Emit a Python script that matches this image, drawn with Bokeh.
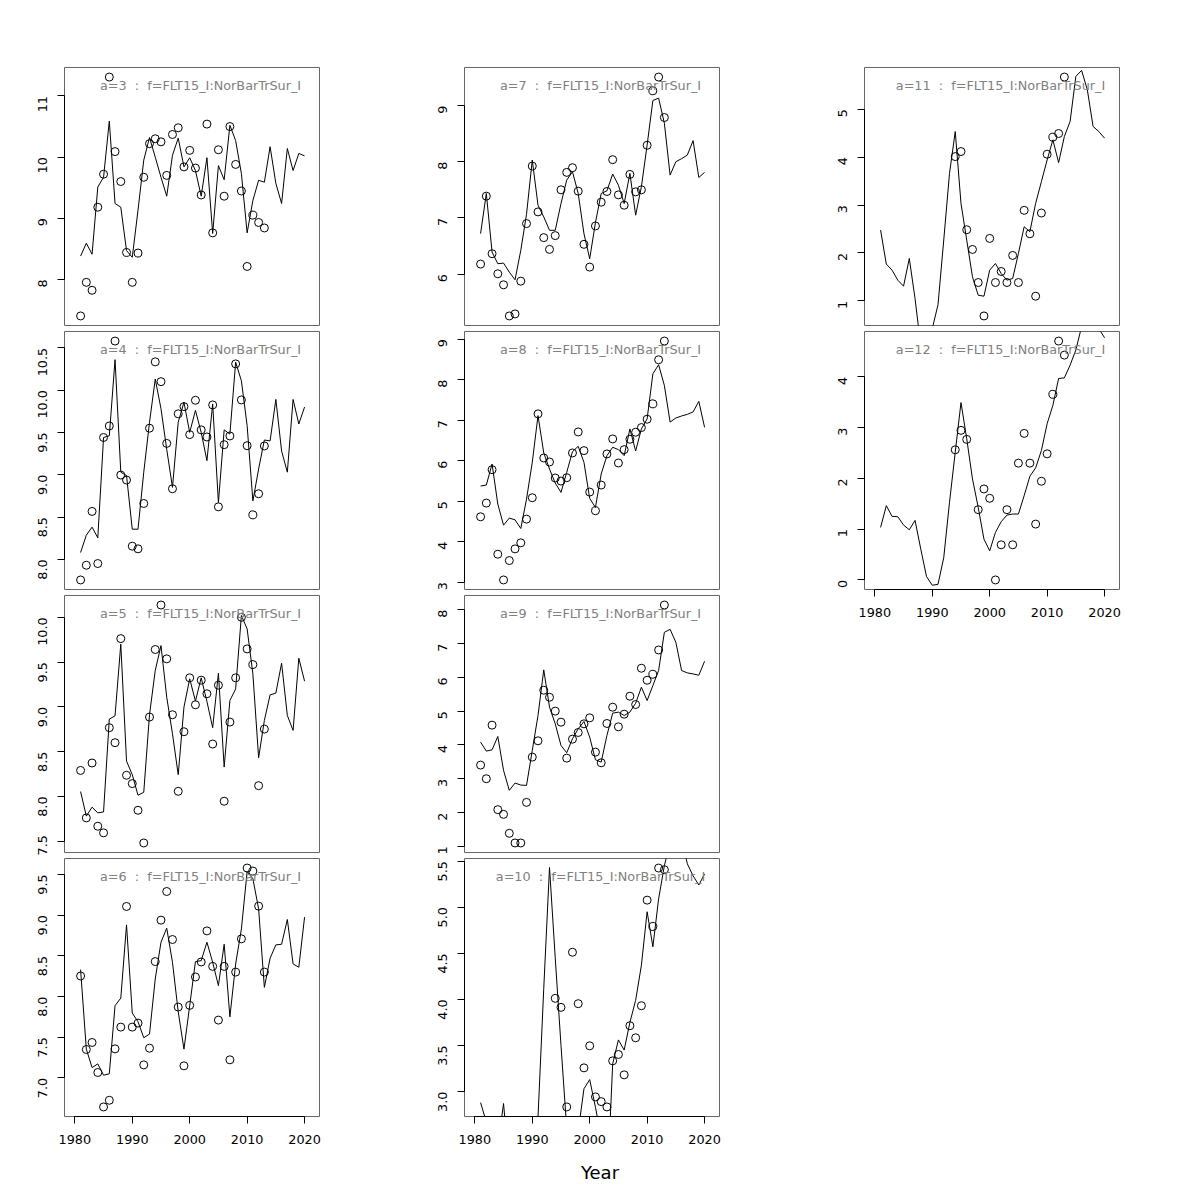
import math
from bokeh.plotting import figure
from bokeh.layouts import row, column
from bokeh.models import Range1d, FixedTicker, PrintfTickFormatter, Label
from bokeh.embed import file_html
from bokeh.resources import INLINE

FONT = "DejaVu Sans"

# ---------------- data ----------------
years_fit = [1981, 1982, 1983, 1984, 1985, 1986, 1987, 1988, 1989, 1990,
             1991, 1992, 1993, 1994, 1995, 1996, 1997, 1998, 1999, 2000,
             2001, 2002, 2003, 2004, 2005, 2006, 2007, 2008, 2009, 2010,
             2011, 2012, 2013, 2014, 2015, 2016, 2017, 2018, 2019, 2020]
years_obs_long = [1981, 1982, 1983, 1984, 1985, 1986, 1987, 1988, 1989, 1990,
                  1991, 1992, 1993, 1994, 1995, 1996, 1997, 1998, 1999, 2000,
                  2001, 2002, 2003, 2004, 2005, 2006, 2007, 2008, 2009, 2010,
                  2011, 2012, 2013]
years_obs_short = [1994, 1995, 1996, 1997, 1998, 1999, 2000, 2001, 2002, 2003,
                   2004, 2005, 2006, 2007, 2008, 2009, 2010, 2011, 2012, 2013]
years_obs_a12 = [1994, 1995, 1996, 1998, 1999, 2000, 2001, 2002, 2003, 2004,
                 2005, 2006, 2007, 2008, 2009, 2010, 2011, 2012, 2013]

x_ticks = [1980, 1990, 2000, 2010, 2020]

a3_obs = [7.40, 7.95, 7.82, 9.18, 9.72, 11.31, 10.09, 9.60, 8.44, 7.95, 8.43, 9.67, 10.22, 10.30, 10.25, 9.70, 10.37,
          10.48, 9.84, 10.11, 9.82, 9.38, 10.54, 8.76, 10.12, 9.36, 10.50, 9.88, 9.445, 8.21, 9.05, 8.93, 8.84]
a3_fit = [8.38, 8.59, 8.41, 9.51, 9.67, 10.59, 9.24, 9.18, 8.47, 8.36, 9.13, 9.95, 10.32, 10.00, 9.67, 9.36, 10.03,
          10.31, 9.84, 9.99, 9.78, 9.36, 9.99, 8.75, 9.86, 9.63, 10.52, 10.27, 9.73, 8.76, 9.29, 9.62, 9.59, 10.17,
          9.57, 9.24, 10.14, 9.78, 10.06, 10.02]
a3_ticks = [8, 9, 10, 11]

a4_obs = [7.756, 7.93, 8.566, 7.95, 9.44, 9.576, 10.58, 8.996, 8.937, 8.155, 8.124, 8.66, 9.55, 10.334, 10.10, 9.37,
          8.834, 9.72, 9.805, 9.474, 9.88, 9.53, 9.446, 9.825, 8.62, 9.355, 9.458, 10.31, 9.884, 9.343, 8.526, 8.775,
          9.34]
a4_fit = [8.08, 8.285, 8.38, 8.254, 9.44, 9.46, 10.36, 9.03, 8.99, 8.356, 8.356, 9.03, 9.62, 10.13, 9.78, 9.30, 8.85,
          9.62, 9.856, 9.50, 9.76, 9.50, 9.166, 9.837, 8.67, 9.53, 9.48, 10.33, 10.11, 9.58, 8.69, 9.067, 9.41, 9.40,
          9.89, 9.28, 9.03, 9.89, 9.60, 9.80]
a4_ticks = [8.0, 8.5, 9.0, 9.5, 10.0, 10.5]

a5_obs = [8.29, 7.76, 8.373, 7.667, 7.593, 8.767, 8.60, 9.762, 8.236, 8.143, 7.845, 7.48, 8.886, 9.64, 10.137, 9.536,
          8.912, 8.057, 8.722, 9.324, 9.023, 9.298, 9.146, 8.585, 9.242, 7.946, 8.83, 9.324, 10.0, 9.647, 9.472, 8.12,
          8.752]
a5_fit = [8.054, 7.78, 7.88, 7.816, 7.827, 8.863, 8.90, 9.70, 8.395, 8.243, 8.013, 8.046, 8.912, 9.406, 9.684, 9.108,
          8.70, 8.243, 8.997, 9.313, 9.064, 9.324, 9.06, 8.767, 9.376, 8.328, 9.071, 9.20, 10.02, 9.87, 9.368, 8.432,
          8.848, 9.134, 9.153, 9.487, 8.904, 8.737, 9.543, 9.287]
a5_ticks = [7.5, 8.0, 8.5, 9.0, 9.5, 10.0]

a6_obs = [8.252, 7.349, 7.435, 7.066, 6.643, 6.725, 7.357, 7.624, 9.106, 7.624, 7.673, 7.16, 7.365, 8.429, 8.938, 9.29,
          8.70, 7.87, 7.148, 7.891, 8.24, 8.424, 8.806, 8.37, 7.71, 8.37, 7.222, 8.30, 8.708, 9.578, 9.541, 9.11, 8.30]
a6_fit = [8.33, 7.353, 7.127, 7.172, 7.033, 7.05, 7.887, 7.98, 8.88, 7.796, 7.69, 7.493, 7.538, 8.215, 8.667, 8.839,
          8.42, 7.813, 7.353, 7.887, 8.429, 8.44, 8.667, 8.42, 8.133, 8.642, 7.75, 8.40, 8.83, 9.537, 9.447, 9.077,
          8.112, 8.47, 8.634, 8.642, 8.946, 8.40, 8.359, 8.975]
a6_ticks = [7.0, 7.5, 8.0, 8.5, 9.0, 9.5]

a7_obs = [6.179, 7.387, 6.363, 6.006, 5.81, 5.256, 5.292, 5.875, 6.899, 7.923, 7.107, 6.649, 6.44, 6.685, 7.5, 7.81,
          7.893, 7.476, 6.53, 6.125, 6.857, 7.28, 7.47, 8.036, 7.41, 7.226, 7.774, 7.464, 7.50, 8.292, 9.262, 9.506,
          8.786]
a7_fit = [6.72, 7.435, 6.393, 6.185, 6.196, 6.036, 5.899, 6.423, 7.065, 8.03, 7.226, 7.018, 6.78, 6.78, 7.256, 7.673,
          7.821, 7.435, 6.72, 6.274, 6.917, 7.435, 7.482, 7.78, 7.583, 7.256, 7.792, 7.048, 7.554, 8.298, 9.089, 9.131,
          8.685, 7.762, 8.0, 8.054, 8.119, 8.375, 7.72, 7.81]
a7_ticks = [6, 7, 8, 9]

a8_obs = [4.611, 4.949, 5.774, 3.686, 3.051, 3.53, 3.818, 3.967, 4.553, 5.081, 7.152, 6.063, 5.964, 5.568, 5.493,
          5.576, 6.187, 6.706, 6.244, 5.221, 4.759, 5.394, 6.162, 6.533, 5.939, 6.269, 6.525, 6.698, 6.814, 7.02, 7.4,
          8.488, 8.95]
a8_fit = [5.37, 5.394, 5.914, 4.924, 4.404, 4.578, 4.536, 4.322, 5.048, 5.955, 7.11, 6.187, 5.79, 5.444, 5.213, 5.708,
          6.22, 6.351, 5.955, 5.064, 4.842, 5.667, 6.12, 6.327, 6.269, 6.12, 6.78, 6.236, 6.78, 7.028, 8.142, 8.365,
          7.853, 6.95, 7.05, 7.10, 7.14, 7.20, 7.46, 6.82]
a8_ticks = [3, 4, 5, 6, 7, 8, 9]

a9_obs = [3.404, 3.0, 4.585, 2.085, 1.947, 1.386, 1.10, 1.10, 2.301, 3.64, 4.122, 5.618, 5.41, 5.0, 4.673, 3.61, 4.171,
          4.368, 4.624, 4.801, 3.787, 3.472, 4.634, 5.116, 4.535, 4.909, 5.441, 5.195, 6.268, 5.913, 6.09, 6.809, 8.138]
a9_fit = [4.083, 3.817, 3.856, 4.25, 3.246, 2.656, 2.872, 2.813, 2.803, 3.837, 4.87, 6.22, 5.116, 4.624, 3.984, 3.768,
          4.181, 4.476, 4.693, 4.23, 3.561, 3.492, 4.28, 4.94, 4.97, 4.87, 4.97, 5.234, 5.707, 5.313, 5.756, 6.2, 7.331,
          7.419, 7.035, 6.2, 6.13, 6.10, 6.061, 6.474]
a9_ticks = [1, 2, 3, 4, 5, 6, 7, 8]

a10_obs = [4.011, 3.913, 2.833, 4.511, 3.953, 3.257, 3.496, 2.942, 2.891, 2.833, 3.333, 3.402, 3.181, 3.714, 3.583,
           3.931, 5.076, 4.79, 5.424, 5.406]
a10_fit = [2.88, 2.67, 2.50, 2.40, 2.87, 2.16, 2.10, 2.20, 2.30, 2.20, 2.72, 4.12, 5.43, 4.45, 3.50, 2.60, 2.30, 2.57,
           3.03, 3.13, 2.83, 2.50, 1.90, 3.30, 3.56, 3.45, 3.75, 3.99, 4.37, 4.95, 4.57, 5.09, 5.45, 5.70, 5.80, 5.75,
           5.47, 5.34, 5.24, 5.36]
a10_ticks = [3.0, 3.5, 4.0, 4.5, 5.0, 5.5]

a11_obs = [4.01, 4.115, 2.484, 2.073, 1.383, 0.686, 2.303, 1.383, 1.613, 1.383, 1.948, 1.383, 2.889, 2.40, 1.098,
           2.833, 4.059, 4.415, 4.491, 5.669]
a11_fit = [2.477, 1.767, 1.641, 1.432, 1.307, 1.885, 1.049, 0.05, -0.2, 0.42, 0.92, 2.27, 3.66, 4.533, 3.035, 2.268,
           1.502, 1.118, 1.098, 1.641, 1.78, 1.571, 1.432, 1.467, 1.99, 2.547, 2.443, 3.035, 3.488, 3.94, 4.359, 3.885,
           4.429, 4.742, 5.683, 5.808, 5.404, 4.638, 4.533, 4.394]
a11_ticks = [1, 2, 3, 4, 5]

a12_obs = [2.563, 2.946, 2.768, 1.384, 1.792, 1.608, 0.0, 0.692, 1.384, 0.692, 2.30, 2.886, 2.30, 1.10, 1.944, 2.484,
           3.657, 4.705, 4.428]
a12_fit = [1.035, 1.463, 1.252, 1.245, 1.081, 0.988, 1.173, 0.606, 0.066, -0.105, -0.086, 0.441, 1.529, 2.517, 3.493,
           2.781, 1.99, 1.43, 0.804, 0.573, 0.936, 1.147, 1.278, 1.298, 1.298, 1.661, 2.043, 2.207, 2.55, 3.077, 3.44,
           3.967, 3.98, 4.231, 4.527, 4.99, 5.25, 5.15, 4.95, 4.77]
a12_ticks = [0, 1, 2, 3, 4]

FLEET = "FLT15_I:NorBarTrSur_I"
X_TITLE = "Year"
NB = "\u00a0\u00a0"
LEFT = 64
FRAME_W = 255
X_START, X_END = 1978.2, 2022.6
FS = "12.8px"


def panel(age, oy, obs, fit, yticks, yfmt, height, top, bottom, width=400, xaxis=False):
    lo, hi = min(obs), max(obs)
    pad = 0.04 * (hi - lo)
    p = figure(width=width, height=height, title=None, output_backend="svg", toolbar_location=None, tools="",
               x_range=Range1d(X_START, X_END), y_range=Range1d(lo - pad, hi + pad),
               min_border_left=LEFT, min_border_right=width - LEFT - FRAME_W,
               min_border_top=top, min_border_bottom=bottom,
               x_axis_location="below" if xaxis else None)
    frame_h = height - top - bottom
    p.xgrid.visible = False
    p.ygrid.visible = False
    p.outline_line_color = "#666666"
    p.outline_line_width = 1
    p.background_fill_color = "white"
    p.border_fill_color = "white"

    axes = list(p.yaxis) + (list(p.xaxis) if xaxis else [])
    for ax in axes:
        ax.major_tick_out = 7
        ax.major_tick_in = 0
        ax.minor_tick_line_color = None
        ax.major_tick_line_color = "black"
        ax.axis_line_color = "black"
        ax.major_label_text_font = FONT
        ax.major_label_text_font_size = FS
        ax.major_label_text_color = "black"

    p.yaxis.ticker = FixedTicker(ticks=yticks)
    p.yaxis.formatter = PrintfTickFormatter(format=yfmt)
    p.yaxis.bounds = (yticks[0], yticks[-1])
    p.yaxis.major_label_orientation = math.pi / 2
    p.yaxis.major_label_standoff = 15
    if xaxis:
        p.xaxis.ticker = FixedTicker(ticks=x_ticks)
        p.xaxis.bounds = (x_ticks[0], x_ticks[-1])
        p.xaxis.major_label_standoff = 11

    p.line(years_fit, fit, line_color="black", line_width=1)
    p.scatter(oy, obs, marker="circle", size=8, fill_color=None, line_color="black", line_width=1)

    p.add_layout(Label(x=136, y=frame_h - 18, x_units="screen", y_units="screen",
                       text="a=%d%s:%sf=%s" % (age, NB, NB, FLEET), text_align="center", text_baseline="middle",
                       text_font=FONT, text_font_size=FS, text_color="#808080"))
    return p


def year_strip(width, height):
    s = figure(width=width, height=height, title=None, output_backend="svg", toolbar_location=None, tools="",
               x_range=Range1d(0, 1), y_range=Range1d(0, 1),
               min_border_left=LEFT, min_border_right=width - LEFT - FRAME_W, min_border_top=0, min_border_bottom=0,
               x_axis_location=None, y_axis_location=None)
    s.xgrid.visible = False
    s.ygrid.visible = False
    s.outline_line_color = None
    s.background_fill_color = "white"
    s.border_fill_color = "white"
    s.add_layout(Label(x=135.5, y=20, x_units="screen", y_units="screen", text=X_TITLE,
                       text_align="center", text_baseline="middle",
                       text_font=FONT, text_font_size="18px", text_color="black"))
    return s


p3 = panel(3, years_obs_long, a3_obs, a3_fit, a3_ticks, "%d", 328, 67, 3)
p4 = panel(4, years_obs_long, a4_obs, a4_fit, a4_ticks, "%.1f", 264, 3, 3)
p5 = panel(5, years_obs_long, a5_obs, a5_fit, a5_ticks, "%.1f", 263, 3, 3)
p6 = panel(6, years_obs_long, a6_obs, a6_fit, a6_ticks, "%.1f", 330, 3, 69, xaxis=True)

p7 = panel(7, years_obs_long, a7_obs, a7_fit, a7_ticks, "%d", 328, 67, 3)
p8 = panel(8, years_obs_long, a8_obs, a8_fit, a8_ticks, "%d", 264, 3, 3)
p9 = panel(9, years_obs_long, a9_obs, a9_fit, a9_ticks, "%d", 263, 3, 3)
p10 = panel(10, years_obs_short, a10_obs, a10_fit, a10_ticks, "%.1f", 299, 3, 38, xaxis=True)
pyear = year_strip(400, 38)

p11 = panel(11, years_obs_short, a11_obs, a11_fit, a11_ticks, "%d", 328, 67, 3, width=385)
p12 = panel(12, years_obs_a12, a12_obs, a12_fit, a12_ticks, "%d", 301, 3, 40, width=385, xaxis=True)

layout = row(column(p3, p4, p5, p6), column(p7, p8, p9, p10, pyear), column(p11, p12))

open("out.html", "w").write(file_html(layout, INLINE))
